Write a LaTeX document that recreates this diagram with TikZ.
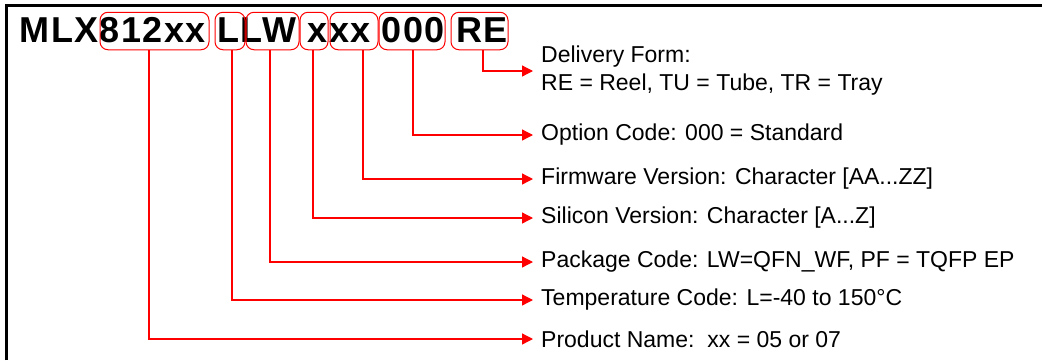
\documentclass[tikz,border=0pt]{standalone}
\usepackage{fontspec}
\setmainfont{Liberation Sans}
\usetikzlibrary{arrows.meta, positioning, calc}

\begin{document}
\begin{tikzpicture}[x=1pt, y=-1pt, partbox/.style={draw=red, line width=1pt, rounded corners=8pt, minimum height=37.5pt, inner sep=0pt}, info/.style={anchor=west, inner sep=0pt, align=left, font=\fontsize{23}{28}\selectfont}, lead/.style={draw=red, line width=1.3pt, -{Triangle[length=11pt, width=11pt]}, shorten >=8pt}]
        \useasboundingbox (0,0) rectangle (1042,360);
        \draw[line width=3pt] (6,360) -- (6,5.5) -- (1042,5.5);

        \node[anchor=base west, inner sep=0pt, font=\fontsize{36}{40}\selectfont\bfseries\addfontfeatures{LetterSpace=4}] (code) at (19.5,42) {MLX812xx LLW xxx 000 RE};

        \node[partbox, minimum width=109pt] (prod) at (154.5,31) {};
        \node[partbox, minimum width=30pt] (temp) at (230,31) {};
        \node[partbox, minimum width=53pt] (pkg) at (272.5,31) {};
        \node[partbox, minimum width=28pt] (sil) at (314,31) {};
        \node[partbox, minimum width=48pt] (fw) at (354,31) {};
        \node[partbox, minimum width=66pt] (opt) at (412,31) {};
        \node[partbox, minimum width=57pt] (dlv) at (479.5,31) {};

        \node[info] (dlvtxt) at (541,71) {Delivery Form:\\RE = Reel, TU = Tube, TR = Tray};
        \node[info] (opttxt) at (541,135) {Option Code: 000 = Standard};
        \node[info] (fwtxt) at (541,179) {Firmware Version: Character [AA...ZZ]};
        \node[info] (siltxt) at (541,218) {Silicon Version: Character [A...Z]};
        \node[info] (pkgtxt) at (541,262) {Package Code: LW=QFN\_WF, PF = TQFP EP};
        \node[info] (temptxt) at (541,300) {Temperature Code: L=-40 to 150°C};
        \node[info] (prodtxt) at (541,339) {Product Name:\ \ xx = 05 or 07};

        \draw[lead] ([xshift=3.5pt]dlv.south) |- (dlvtxt.west);
        \draw[lead] ([xshift=1pt]opt.south) |- (opttxt.west);
        \draw[lead] ([xshift=9pt]fw.south) |- (fwtxt.west);
        \draw[lead] ([xshift=-1pt]sil.south) |- (siltxt.west);
        \draw[lead] ([xshift=-2.5pt]pkg.south) |- (pkgtxt.west);
        \draw[lead] ([xshift=2pt]temp.south) |- (temptxt.west);
        \draw[lead] ([xshift=-5.5pt]prod.south) |- (prodtxt.west);
    \end{tikzpicture}
\end{document}
